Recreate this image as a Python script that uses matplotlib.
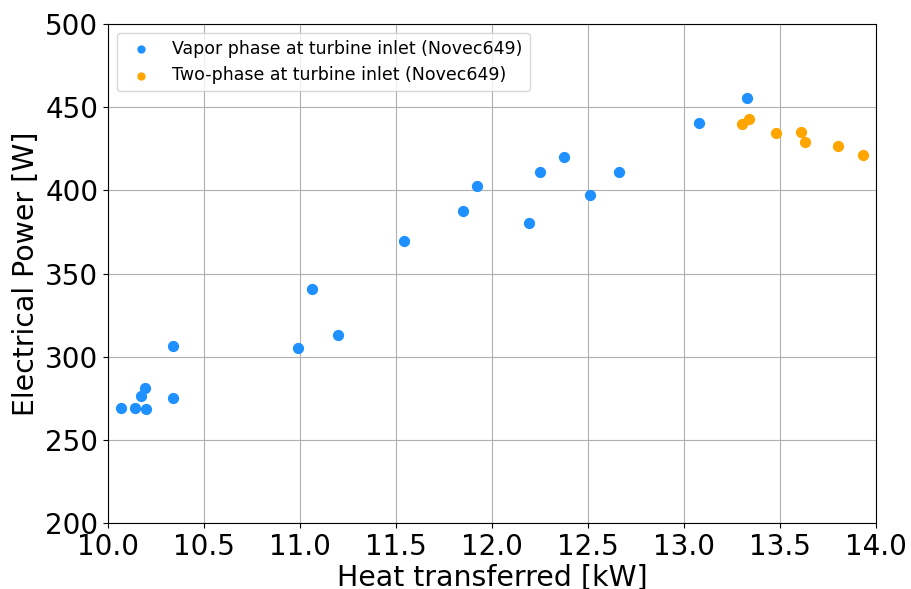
import matplotlib
matplotlib.use("Agg")
from matplotlib import pyplot as plt

# Vapor phase at turbine inlet
vapor_q = [10.07, 10.14, 10.17, 10.19, 10.20, 10.34, 10.34, 10.99, 11.06, 11.20,
           11.54, 11.85, 11.92, 12.19, 12.25, 12.375, 12.51, 12.66, 13.08, 13.33]
vapor_p = [269, 269, 276.5, 281.5, 268.5, 306.5, 275, 305.5, 341, 313,
           369.5, 387.5, 402.5, 380.5, 411, 420, 397, 411, 440.5, 455.5]

# Two-phase at turbine inlet
two_q = [13.30, 13.34, 13.48, 13.61, 13.63, 13.80, 13.93]
two_p = [440, 443, 434.5, 435, 429, 427, 421.5]

fig = plt.figure(figsize=(9.11, 5.89), dpi=100)
ax = fig.add_axes([0.1186, 0.112, 0.843, 0.847])

ax.scatter(vapor_q, vapor_p, s=50, color='dodgerblue', label='Vapor phase at turbine inlet (Novec649)', zorder=3)
ax.scatter(two_q, two_p, s=50, color='orange', label='Two-phase at turbine inlet (Novec649)', zorder=3)

ax.set_xlim(10.0, 14.0)
ax.set_ylim(200, 500)
ax.set_xticks([10.0, 10.5, 11.0, 11.5, 12.0, 12.5, 13.0, 13.5, 14.0])
ax.set_yticks([200, 250, 300, 350, 400, 450, 500])
ax.tick_params(labelsize=20)
ax.set_xlabel('Heat transferred [kW]', fontsize=20.4, labelpad=2)
ax.set_ylabel('Electrical Power [W]', fontsize=20.4)
ax.grid(True, color='#b0b0b0', linewidth=0.8)
ax.set_axisbelow(True)
ax.legend(loc='upper left', fontsize=12.5, markerscale=0.7)

fig.savefig('out.png', dpi=100)
